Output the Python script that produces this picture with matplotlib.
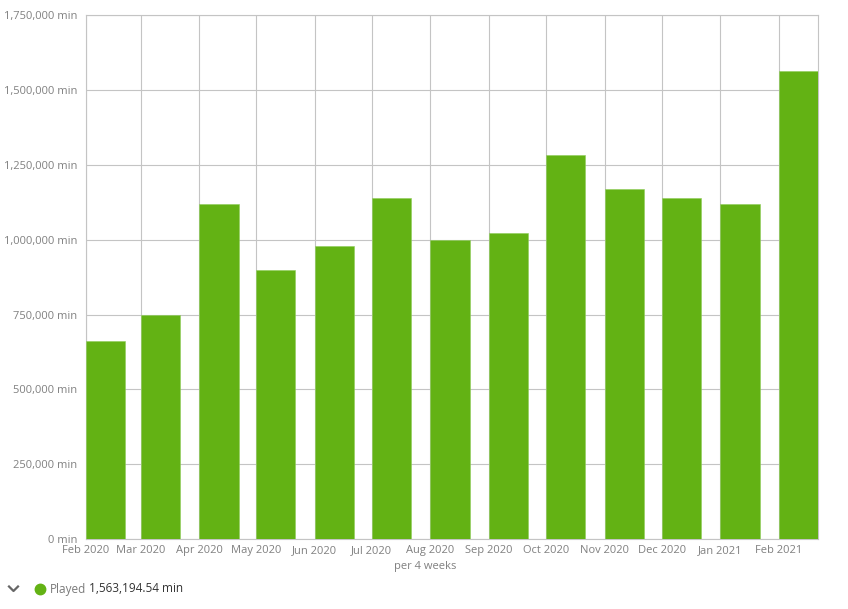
import matplotlib
matplotlib.use("Agg")
import matplotlib.pyplot as plt
import matplotlib.dates as mdates
from matplotlib.lines import Line2D
from matplotlib.ticker import FuncFormatter, MultipleLocator
import datetime as dt

plt.rcParams['font.family'] = ['Open Sans', 'DejaVu Sans']

# ---- data ----
months = ["2020-02", "2020-03", "2020-04", "2020-05", "2020-06", "2020-07", "2020-08",
          "2020-09", "2020-10", "2020-11", "2020-12", "2021-01", "2021-02"]
tick_labels = ["Feb 2020", "Mar 2020", "Apr 2020", "May 2020", "Jun 2020", "Jul 2020",
               "Aug 2020", "Sep 2020", "Oct 2020", "Nov 2020", "Dec 2020", "Jan 2021", "Feb 2021"]
played = [661800, 749700, 1120700, 899000, 979000, 1138600, 999000,
          1023000, 1285000, 1170000, 1141000, 1121000, 1563194.54]
series_name = "Played"
x_title = "per 4 weeks"

W, H = 848, 609
fig = plt.figure(figsize=(W / 100, H / 100), dpi=100)
left, right, top, bottom = 85.7, 818.3, 15.4, 539.0
ax = fig.add_axes([left / W, 1 - bottom / H, (right - left) / W, (bottom - top) / H])

dates = [dt.datetime.strptime(m, "%Y-%m") for m in months]
xnum = mdates.date2num(dates)
bar_w = 20.7  # days

ax.bar(xnum, played, width=bar_w, align='edge', color='#63b214', zorder=3,
       edgecolor='#8fcc5a', linewidth=0.4)

ax.set_xlim(xnum[0], xnum[-1] + bar_w)
ax.set_ylim(0, 1750000)
ax.yaxis.set_major_locator(MultipleLocator(250000))
ax.yaxis.set_major_formatter(FuncFormatter(lambda v, p: f"{v:,.0f} min"))
ax.set_xticks(xnum)
ax.set_xticklabels(tick_labels)

grid_c = '#c4c4c4'
ax.grid(True, color=grid_c, linewidth=0.8, zorder=0)
for s in ax.spines.values():
    s.set_color(grid_c)
    s.set_linewidth(0.8)
ax.tick_params(axis='both', length=0, labelsize=8, colors='#808080')
ax.tick_params(axis='y', pad=6)
ax.tick_params(axis='x', pad=4.5)
for lbl in ax.get_yticklabels():
    lbl.set_y(lbl.get_position()[1])

fig.text(425 / W, 1 - 566 / H, x_title, ha='center', va='center', fontsize=8, color='#808080')

# legend
ly = 1 - 589 / H
fig.add_artist(Line2D([9 / W, 13.5 / W, 18 / W], [ly + 2.5 / H, ly - 2 / H, ly + 2.5 / H],
                      color='#666666', linewidth=1.6, transform=fig.transFigure))
fig.add_artist(Line2D([40 / W], [ly], marker='o', markersize=7.5, color='#63b214',
                      linestyle='none', transform=fig.transFigure))
t = fig.text(50 / W, ly, series_name, ha='left', va='center', fontsize=8.5, color='#7a7a7a')
fig.canvas.draw()
bb = t.get_window_extent()
fig.text((bb.x1 + 3) / W, ly, f"{played[-1]:,.2f} min", ha='left', va='center',
         fontsize=8.5, color='#333333')

fig.savefig("out.png", dpi=100)
